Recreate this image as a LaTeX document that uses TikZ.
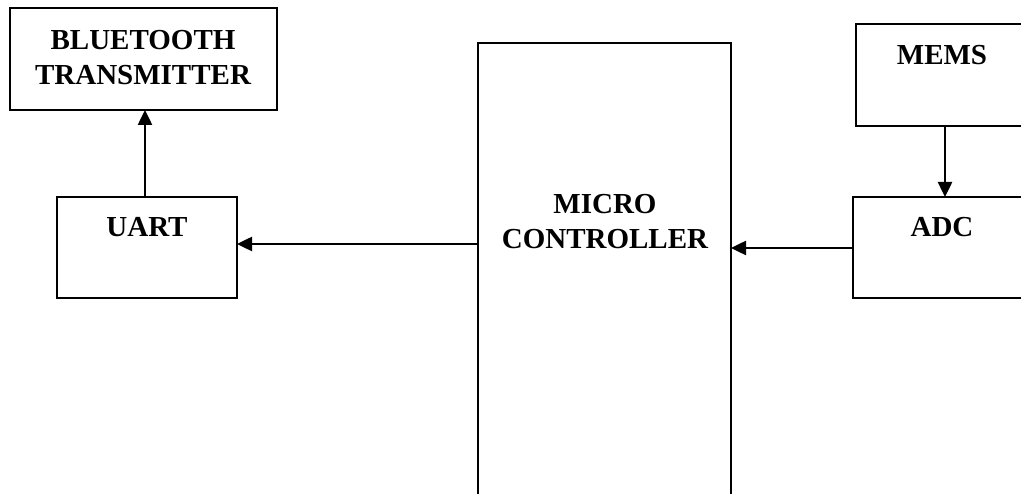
\documentclass[tikz,border=0pt]{standalone}
\usepackage{fontspec}
\setmainfont{Liberation Serif}
\usetikzlibrary{arrows.meta,calc}
\tikzset{
  box/.style={draw=black, line width=2.5pt, rectangle, inner sep=0pt, outer sep=0pt, anchor=north west},
  lbl/.style={font=\fontsize{29}{35}\selectfont\bfseries, align=center, inner sep=0pt},
  arr/.style={line width=2.5pt, -{Triangle[length=15pt,width=14pt]}}
}
\begin{document}
\begin{tikzpicture}[x=1pt,y=-1pt]
\useasboundingbox (0,0) rectangle (1021,494);
\clip (0,0) rectangle (1021,494);
\node[box, minimum width=267pt, minimum height=102pt] (bt) at (10,8) {};
\node[box, minimum width=180pt, minimum height=101pt] (uart) at (57,197) {};
\node[box, minimum width=253pt, minimum height=480pt] (mc) at (478,43) {};
\node[box, minimum width=300pt, minimum height=102pt] (mems) at (856,24) {};
\node[box, minimum width=300pt, minimum height=101pt] (adc) at (853,197) {};
\node[lbl] (btt) at (143,57.5) {BLUETOOTH\\TRANSMITTER};
\node[lbl] (uartt) at (147,227) {UART};
\node[lbl] (mct) at (605,222) {MICRO\\CONTROLLER};
\node[lbl] (memst) at (942,55) {MEMS};
\node[lbl] (adct) at (942,227) {ADC};
\draw[arr] (uart.north -| 145,0) -- (bt.south -| 145,0);
\draw[arr] (mc.west |- 0,244) -- (uart.east |- 0,244);
\draw[arr] (adc.west |- 0,248) -- (mc.east |- 0,248);
\draw[arr] (mems.south -| 945,0) -- (adc.north -| 945,0);
\end{tikzpicture}
\end{document}
